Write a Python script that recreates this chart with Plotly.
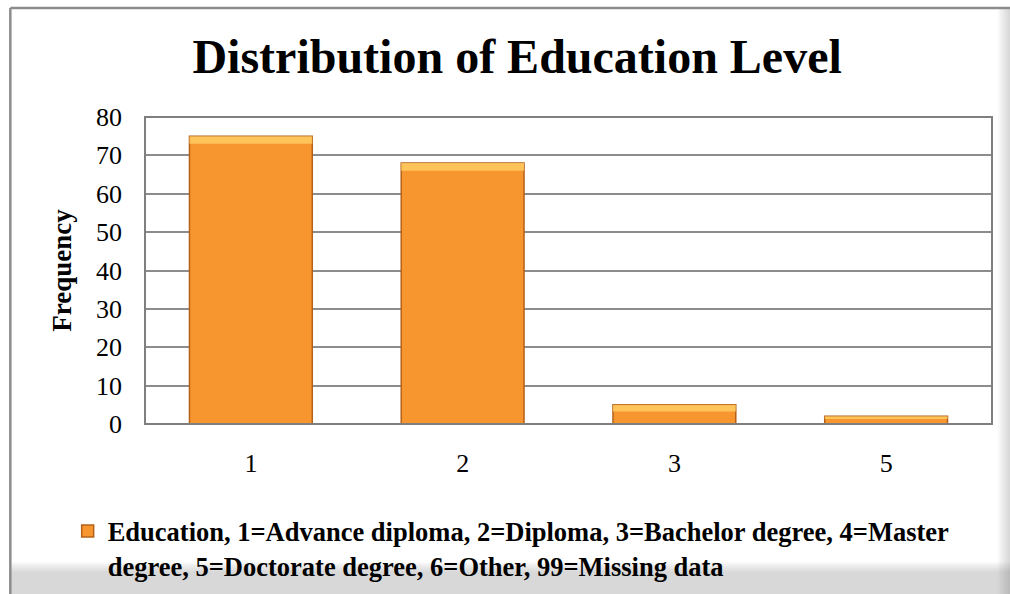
import plotly.graph_objects as go

# Education level frequencies
categories = ["1", "2", "3", "5"]
frequency = [75, 68, 5, 2]
y_ticks = [0, 10, 20, 30, 40, 50, 60, 70, 80]

legend_label = ("<b>Education, 1=Advance diploma, 2=Diploma, 3=Bachelor degree, 4=Master<br>"
                "degree, 5=Doctorate degree, 6=Other, 99=Missing data</b>")

SERIF = "Liberation Serif, Times New Roman, serif"
ORANGE = "#F7962F"
EDGE = "#B5611A"

# bevel band at the top of each bar (in data units)
bevel = [min(2.0, v * 0.35) for v in frequency]

fig = go.Figure()

fig.add_trace(go.Bar(
    x=categories,
    y=frequency,
    name=legend_label,
    marker=dict(color=ORANGE, line=dict(color=EDGE, width=1.5)),
    showlegend=True,
))

fig.add_trace(go.Bar(
    x=categories,
    y=bevel,
    base=[v - b for v, b in zip(frequency, bevel)],
    marker=dict(color="rgba(255,206,100,0.8)", line=dict(width=0)),
    showlegend=False,
    hoverinfo="skip",
))

# soft shadow along the bottom and right edges of the chart frame
shadow = []
for i in range(6):
    a = 0.05
    shadow.append(dict(type="rect", xref="paper", yref="paper",
                       x0=-0.159, x1=1.03,
                       y0=-0.56, y1=-0.48 + i * 0.006,
                       fillcolor=f"rgba(120,120,120,{a})", line=dict(width=0), layer="below"))
    shadow.append(dict(type="rect", xref="paper", yref="paper",
                       x0=1.0195 - i * 0.0025, x1=1.03,
                       y0=-0.56, y1=1.355,
                       fillcolor=f"rgba(120,120,120,{a})", line=dict(width=0), layer="below"))

fig.update_layout(
    width=1010,
    height=594,
    margin=dict(l=145, r=18, t=117, b=170, autoexpand=False),
    paper_bgcolor="white",
    plot_bgcolor="white",
    barmode="overlay",
    bargap=0.42,
    title=dict(
        text="<b>Distribution of Education Level</b>",
        font=dict(family=SERIF, size=48, color="black"),
        x=0.512, xanchor="center",
        y=0.905, yanchor="middle",
    ),
    font=dict(family=SERIF, color="black"),
    xaxis=dict(
        type="category",
        showgrid=False,
        showline=False,
        ticks="",
        tickfont=dict(size=26),
        ticklabelstandoff=21,
    ),
    yaxis=dict(
        range=[0, 80],
        tickvals=y_ticks,
        showgrid=True,
        gridcolor="#8C8C8C",
        gridwidth=1.5,
        zeroline=False,
        showline=False,
        ticks="",
        tickfont=dict(size=26),
        ticklabelstandoff=22,
        title=dict(text="<b>Frequency</b>", font=dict(size=27), standoff=16),
    ),
    legend=dict(
        xref="container", yref="container",
        x=0.067, xanchor="left",
        y=0.146, yanchor="top",
        orientation="h",
        valign="top",
        font=dict(family=SERIF, size=26.5, color="black"),
        itemwidth=30,
        bgcolor="rgba(0,0,0,0)",
    ),
    shapes=shadow + [
        # plot-area frame
        dict(type="rect", xref="paper", yref="paper", x0=0, x1=1, y0=0, y1=1,
             line=dict(color="#7F7F7F", width=2), layer="above"),
        # outer chart frame: top and left edges
        dict(type="line", xref="paper", yref="paper", x0=-0.159, x1=1.03, y0=1.355, y1=1.355,
             line=dict(color="#8C8C8C", width=2.5)),
        dict(type="line", xref="paper", yref="paper", x0=-0.159, x1=-0.159, y0=1.355, y1=-0.56,
             line=dict(color="#8C8C8C", width=2.5)),
    ],
)

fig.write_html("out.html")
